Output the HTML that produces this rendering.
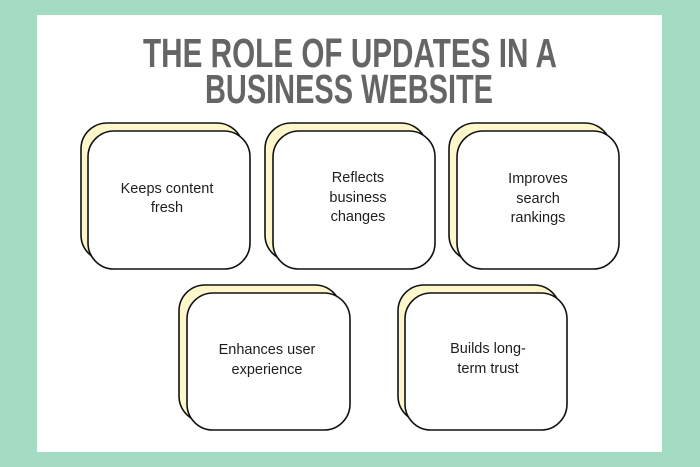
<!DOCTYPE html>
<html><head><meta charset="utf-8"><style>
html,body{margin:0;padding:0;width:700px;height:467px;overflow:hidden;background:#a3dbc3;}
svg{display:block;}
.t{font-family:"Liberation Sans",sans-serif;font-weight:bold;fill:#656565;font-size:41px;}
.b{font-family:"Liberation Sans",sans-serif;font-size:14.5px;fill:#1e1e1e;text-anchor:middle;}
.bk{fill:#fff7cc;stroke:#111;stroke-width:1.6;}
.fr{fill:#fff;stroke:#111;stroke-width:1.6;}
</style></head><body>
<svg width="700" height="467" viewBox="0 0 700 467" xmlns="http://www.w3.org/2000/svg">
<rect x="0" y="0" width="700" height="467" fill="#a3dbc3"/>
<rect x="37" y="15" width="625" height="437" fill="#ffffff"/>
<text class="t" x="143" y="67" textLength="414" lengthAdjust="spacingAndGlyphs">THE ROLE OF UPDATES IN A</text>
<text class="t" x="205" y="103" textLength="288" lengthAdjust="spacingAndGlyphs">BUSINESS WEBSITE</text>

<!-- Box 1 -->
<rect class="bk" x="81" y="123" width="162" height="138" rx="26"/>
<rect class="fr" x="88" y="131" width="162" height="138" rx="26"/>
<text class="b" x="167" y="193">Keeps content</text>
<text class="b" x="167" y="212">fresh</text>

<!-- Box 2 -->
<rect class="bk" x="265" y="123" width="162" height="138" rx="26"/>
<rect class="fr" x="273" y="131" width="162" height="138" rx="26"/>
<text class="b" x="358" y="182">Reflects</text>
<text class="b" x="358" y="202">business</text>
<text class="b" x="358" y="221">changes</text>

<!-- Box 3 -->
<rect class="bk" x="449" y="123" width="162" height="138" rx="26"/>
<rect class="fr" x="457" y="131" width="162" height="138" rx="26"/>
<text class="b" x="538" y="183">Improves</text>
<text class="b" x="538" y="203">search</text>
<text class="b" x="538" y="222">rankings</text>

<!-- Box 4 -->
<rect class="bk" x="179" y="285" width="162" height="137" rx="26"/>
<rect class="fr" x="187" y="293" width="163" height="137" rx="26"/>
<text class="b" x="267" y="354">Enhances user</text>
<text class="b" x="267" y="374">experience</text>

<!-- Box 5 -->
<rect class="bk" x="398" y="285" width="162" height="137" rx="26"/>
<rect class="fr" x="405" y="293" width="162" height="137" rx="26"/>
<text class="b" x="488" y="353">Builds long-</text>
<text class="b" x="488" y="373">term trust</text>
</svg>
</body></html>
